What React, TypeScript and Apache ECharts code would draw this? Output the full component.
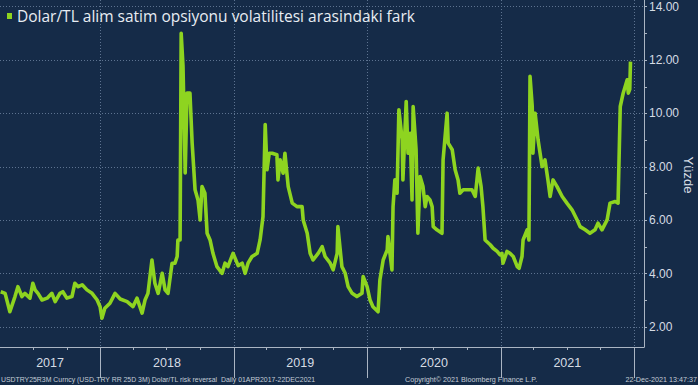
import React, { useEffect, useRef } from "react";
import * as echarts from "echarts";

const seriesName = "Dolar/TL alim satim opsiyonu volatilitesi arasindaki fark";

const dates: string[] = [
  "2017-04-03", "2017-04-15", "2017-04-28", "2017-05-12", "2017-05-20", "2017-05-31", "2017-06-08", "2017-06-22",
  "2017-06-30", "2017-07-06", "2017-07-14", "2017-07-25", "2017-08-08", "2017-08-21", "2017-08-30", "2017-09-12",
  "2017-09-20", "2017-10-01", "2017-10-15", "2017-10-23", "2017-11-01", "2017-11-12", "2017-11-25", "2017-12-09",
  "2017-12-23", "2017-12-31", "2018-01-05", "2018-01-13", "2018-01-27", "2018-02-10", "2018-02-24", "2018-03-15",
  "2018-03-31", "2018-04-11", "2018-04-25", "2018-05-03", "2018-05-11", "2018-05-22", "2018-05-30", "2018-06-08",
  "2018-06-19", "2018-06-27", "2018-07-05", "2018-07-16", "2018-07-24", "2018-07-30", "2018-08-01", "2018-08-07",
  "2018-08-10", "2018-08-15", "2018-08-21", "2018-08-26", "2018-09-03", "2018-09-09", "2018-09-17", "2018-09-25",
  "2018-10-01", "2018-10-06", "2018-10-14", "2018-10-20", "2018-10-28", "2018-11-05", "2018-11-16", "2018-11-30",
  "2018-12-08", "2018-12-16", "2018-12-30", "2019-01-13", "2019-01-24", "2019-02-01", "2019-02-09", "2019-02-20",
  "2019-03-06", "2019-03-14", "2019-03-22", "2019-03-28", "2019-04-02", "2019-04-08", "2019-04-16", "2019-04-29",
  "2019-05-02", "2019-05-08", "2019-05-16", "2019-05-21", "2019-05-30", "2019-06-10", "2019-06-23", "2019-07-07",
  "2019-07-10", "2019-07-21", "2019-07-29", "2019-08-06", "2019-08-20", "2019-08-31", "2019-09-08", "2019-09-22",
  "2019-09-30", "2019-10-11", "2019-10-13", "2019-10-24", "2019-11-02", "2019-11-10", "2019-11-21", "2019-12-04",
  "2019-12-18", "2019-12-21", "2020-01-01", "2020-01-09", "2020-01-17", "2020-01-31", "2020-02-05", "2020-02-14",
  "2020-02-25", "2020-02-27", "2020-03-09", "2020-03-12", "2020-03-17", "2020-03-23", "2020-03-28", "2020-04-06",
  "2020-04-08", "2020-04-17", "2020-04-22", "2020-04-28", "2020-05-03", "2020-05-06", "2020-05-14", "2020-05-19",
  "2020-05-25", "2020-06-02", "2020-06-08", "2020-06-13", "2020-06-21", "2020-06-27", "2020-06-30", "2020-07-10",
  "2020-07-24", "2020-07-27", "2020-08-07", "2020-08-10", "2020-08-21", "2020-08-29", "2020-09-06", "2020-09-11",
  "2020-09-20", "2020-10-01", "2020-10-14", "2020-10-23", "2020-10-31", "2020-11-08", "2020-11-13", "2020-11-19",
  "2020-12-03", "2020-12-11", "2020-12-22", "2020-12-30", "2021-01-04", "2021-01-07", "2021-01-18", "2021-01-26",
  "2021-02-04", "2021-02-15", "2021-02-20", "2021-02-28", "2021-03-03", "2021-03-14", "2021-03-19", "2021-03-22",
  "2021-03-28", "2021-03-30", "2021-04-05", "2021-04-13", "2021-04-24", "2021-05-02", "2021-05-10", "2021-05-16",
  "2021-05-24", "2021-06-04", "2021-06-18", "2021-07-01", "2021-07-15", "2021-07-29", "2021-08-06", "2021-08-20",
  "2021-09-02", "2021-09-16", "2021-09-24", "2021-10-05", "2021-10-19", "2021-10-27", "2021-11-10", "2021-11-18",
  "2021-11-24", "2021-12-02", "2021-12-13", "2021-12-16", "2021-12-20", "2021-12-22",
];

const values: number[] = [
  3.32, 3.26, 2.57, 3.14, 3.51, 3.14, 3.26, 3.08,
  3.64, 3.39, 3.26, 3.01, 3.08, 3.26, 2.95, 3.26,
  3.32, 3.08, 3.14, 3.64, 3.51, 3.58, 3.39, 3.26,
  3.01, 2.76, 2.33, 2.7, 2.89, 3.26, 3.05, 2.95,
  2.76, 3.08, 2.52, 3.01, 3.26, 4.51, 3.64, 3.26,
  4.01, 3.39, 3.26, 4.39, 4.39, 4.64, 5.26, 5.26,
  13.0, 11.76, 7.77, 10.76, 10.76, 8.89, 7.14, 6.76,
  6.01, 7.26, 7.01, 5.51, 5.26, 4.76, 4.26, 4.01,
  4.39, 4.26, 4.76, 4.3, 4.39, 4.01, 4.39, 4.64,
  4.76, 5.26, 6.14, 9.58, 7.89, 8.51, 8.51, 8.45,
  7.51, 8.26, 7.76, 8.51, 7.26, 6.64, 6.51, 6.51,
  6.01, 5.51, 4.76, 4.51, 4.76, 5.01, 4.64, 4.39,
  4.14, 4.76, 5.76, 4.26, 4.01, 3.51, 3.26, 3.14,
  3.26, 3.89, 3.51, 3.01, 2.76, 2.57, 3.76, 4.51,
  4.89, 5.39, 4.14, 6.51, 7.51, 7.01, 10.14, 9.01,
  7.51, 10.45, 8.51, 9.26, 6.76, 10.26, 8.64, 5.51,
  7.64, 7.26, 6.51, 6.89, 6.76, 6.51, 5.76, 5.64,
  5.51, 8.26, 10.01, 8.89, 8.64, 7.89, 7.51, 7.01,
  7.14, 7.14, 7.14, 6.89, 7.95, 7.26, 6.51, 5.26,
  5.08, 4.95, 4.83, 4.7, 4.76, 4.39, 4.83, 4.76,
  4.64, 4.26, 4.2, 4.64, 5.26, 5.64, 5.26, 11.39,
  10.26, 8.51, 10.01, 9.01, 8.01, 8.26, 7.51, 6.89,
  7.51, 7.26, 6.89, 6.64, 6.39, 6.01, 5.76, 5.64,
  5.51, 5.64, 5.89, 5.64, 6.01, 6.64, 6.7, 6.64,
  10.26, 10.76, 11.26, 10.76, 10.9, 11.94,
];

const yearLabels: string[] = ["2017", "2018", "2019", "2020", "2021"];
const yearLabelDates: string[] = ["2017-08-16", "2018-07-02", "2019-07-02", "2020-07-02", "2021-07-02"];
const yearStarts: string[] = ["2018-01-01", "2019-01-01", "2020-01-01", "2021-01-01", "2022-01-01"];
const quarterStarts: string[] = [
  "2017-07-01", "2017-10-01", "2018-04-01", "2018-07-01", "2018-10-01", "2019-04-01", "2019-07-01", "2019-10-01",
  "2020-04-01", "2020-07-01", "2020-10-01", "2021-04-01", "2021-07-01", "2021-10-01",
];
const majorTicks: number[] = [2, 4, 6, 8, 10, 12, 14];
const minorTicks: number[] = [3, 5, 7, 9, 11, 13];
const xMin = "2017-04-01";
const xMax = "2022-01-28";
const yMin = 1.25;
const yMax = 14.25;

const footerLeft = "USDTRY25R3M Curncy (USD-TRY RR 25D 3M) Dolar/TL risk reversal  Daily 01APR2017-22DEC2021";
const footerMid = "Copyright\u00A9 2021 Bloomberg Finance L.P.";
const footerRight = "22-Dec-2021 13:47:37";
const yName = "Yüzde";

const ts = (s: string) => {
  const [y, m, d] = s.split("-").map(Number);
  return Date.UTC(y, m - 1, d);
};

const BG = "#152b48";
const GREEN = "#8ed420";
const AXIS = "#aab5c3";
const GRID = "#5d7390";
const TEXT = "#d6dce4";

export default function App() {
  const ref = useRef<HTMLDivElement>(null);
  useEffect(() => {
    if (!ref.current) return;
    const chart = echarts.init(ref.current, undefined, { renderer: "svg" });
    const labelMap: Record<number, string> = {};
    yearLabelDates.forEach((d, i) => (labelMap[ts(d)] = yearLabels[i]));
    chart.setOption({
      animation: false,
      backgroundColor: BG,
      grid: { left: 0, right: 54, top: 0, bottom: 38, containLabel: false, outerBoundsMode: "none" },
      legend: {
        show: true,
        left: 7,
        top: 8,
        padding: 0,
        icon: "rect",
        itemWidth: 5,
        itemHeight: 6,
        data: [seriesName],
        textStyle: { color: "#e8edf3", fontSize: 15.5, fontFamily: "Open Sans" },
      },
      xAxis: [
        {
          type: "value",
          min: ts(xMin),
          max: ts(xMax),
          position: "bottom",
          axisLine: { show: true, onZero: false, lineStyle: { color: AXIS, width: 1 } },
          axisTick: { show: true, customValues: quarterStarts.map(ts), length: 3, lineStyle: { color: AXIS } },
          axisLabel: { show: false },
          splitLine: { show: false },
        },
        {
          type: "value",
          min: ts(xMin),
          max: ts(xMax),
          position: "bottom",
          axisLine: { show: false, onZero: false },
          axisTick: { show: true, customValues: yearStarts.map(ts), length: 31, lineStyle: { color: AXIS, width: 1 } },
          axisLabel: {
            show: true,
            customValues: yearLabelDates.map(ts),
            formatter: (v: number) => labelMap[v] ?? "",
            color: TEXT,
            fontSize: 12.5,
            fontFamily: "Liberation Sans",
            margin: 9,
          },
          splitLine: { show: true, lineStyle: { color: GRID, type: [1, 2], width: 1 } },
        },
      ],
      yAxis: [
        {
          type: "value",
          position: "right",
          min: yMin,
          max: yMax,
          axisLine: { show: true, lineStyle: { color: AXIS, width: 1 } },
          axisTick: { show: true, customValues: majorTicks, length: 3, lineStyle: { color: AXIS } },
          axisLabel: {
            show: true,
            customValues: majorTicks,
            formatter: (v: number) => v.toFixed(2),
            color: TEXT,
            fontSize: 12,
            fontFamily: "Liberation Sans",
            margin: 5,
          },
          splitLine: { show: true, lineStyle: { color: GRID, type: [1, 2], width: 1 } },
        },
        {
          type: "value",
          position: "right",
          min: yMin,
          max: yMax,
          axisLine: { show: false },
          axisTick: { show: true, customValues: minorTicks, length: 3, lineStyle: { color: AXIS } },
          axisLabel: { show: false },
          splitLine: { show: false },
        },
      ],
      graphic: [
        {
          type: "text",
          x: 688,
          y: 175,
          rotation: -Math.PI / 2,
          style: {
            text: yName,
            fill: TEXT,
            fontSize: 13,
            fontFamily: "Liberation Sans",
            align: "center",
            verticalAlign: "middle",
          },
        },
        {
          type: "text",
          left: 1,
          top: 376,
          style: { text: footerLeft, fill: "#c3cbd6", fontSize: 6.9, fontFamily: "Liberation Sans" },
        },
        {
          type: "text",
          left: 405,
          top: 375.5,
          style: { text: footerMid, fill: "#c3cbd6", fontSize: 7.2, fontFamily: "Liberation Sans" },
        },
        {
          type: "text",
          right: 1,
          top: 375.5,
          style: { text: footerRight, fill: "#c3cbd6", fontSize: 7.2, fontFamily: "Liberation Sans" },
        },
      ],
      series: [
        {
          name: seriesName,
          type: "line",
          xAxisIndex: 0,
          yAxisIndex: 0,
          data: dates.map((d, i) => [ts(d), values[i]]),
          showSymbol: false,
          symbol: "none",
          lineStyle: { color: GREEN, width: 3.6, join: "round" },
          itemStyle: { color: GREEN },
        },
      ],
    });
    return () => chart.dispose();
  }, []);
  return (
    <div
      ref={ref}
      style={{ position: "fixed", left: 0, top: 0, width: 698, height: 385, background: BG }}
    />
  );
}
